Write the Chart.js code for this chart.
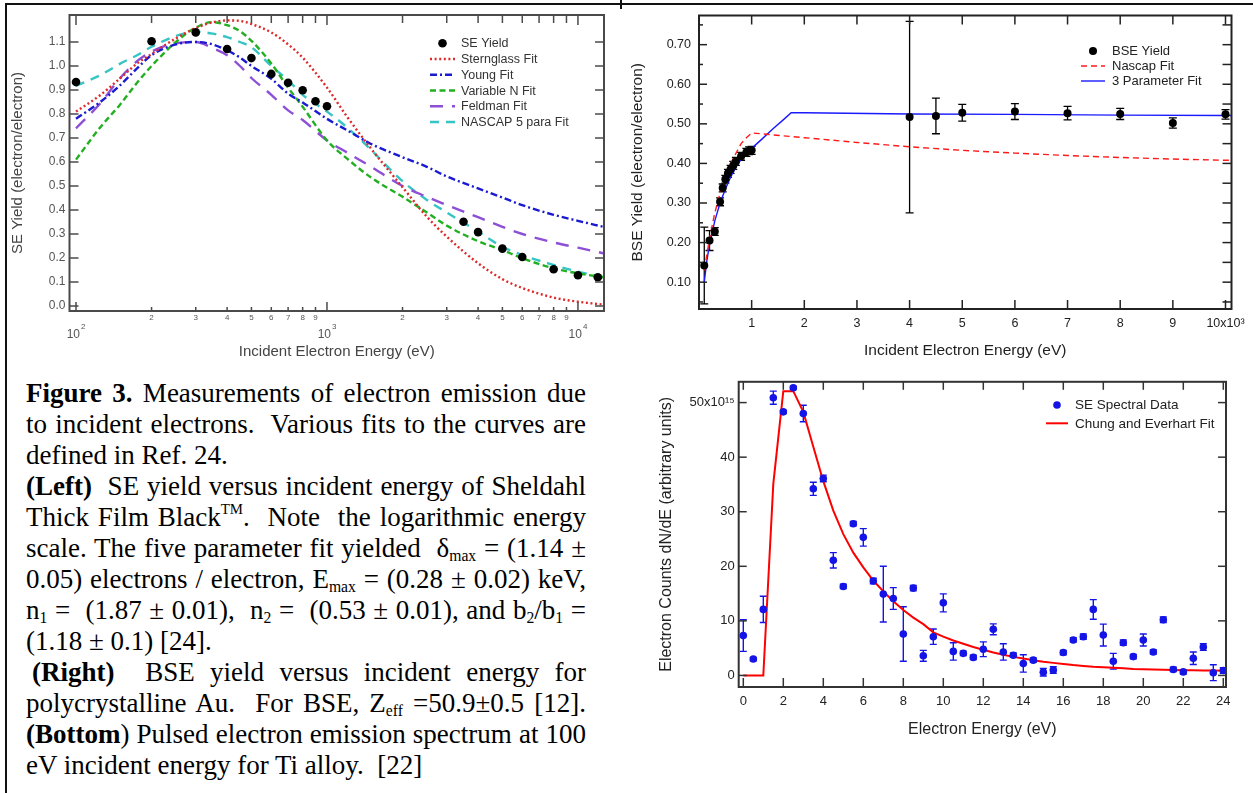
<!DOCTYPE html>
<html>
<head>
<meta charset="utf-8">
<script src="https://cdn.jsdelivr.net/npm/chart.js@4.4.1/dist/chart.umd.min.js"></script>
<style>
  body { margin: 0; background: #fff; width: 1253px; height: 793px; overflow: hidden; position: relative; }
  .frame { position: absolute; left: 5px; top: 3px; width: 1250px; height: 795px; border-top: 2px solid #111; border-left: 2px solid #111; }
  .notch { position: absolute; left: 620px; top: 0; width: 2px; height: 9px; background: #111; }
  canvas { position: absolute; }
  #seChart { left: 0; top: 0; }
  #bseChart { left: 620px; top: 0; }
  #specChart { left: 640px; top: 370px; }
  .cap { position: absolute; left: 26px; top: 378px; width: 560px; font-family: "Liberation Serif", "Times New Roman", serif; font-size: 27px; line-height: 31px; color: #000; }
  .cap div { white-space: nowrap; }
  .cap .j { text-align: justify; text-align-last: justify; }
  .cap .ind { padding-left: 6px; }
  .cap sub { font-size: 58%; vertical-align: -0.28em; line-height: 0; }
  .cap sup { font-size: 55%; vertical-align: 0.8em; line-height: 0; }
</style>
</head>
<body>
<div class="frame"></div>
<div class="notch"></div>
<canvas id="seChart" width="620" height="366"></canvas>
<canvas id="bseChart" width="633" height="366"></canvas>
<canvas id="specChart" width="613" height="400"></canvas>
<div class="cap">
  <div class="j"><b>Figure 3.</b> Measurements of electron emission due</div>
  <div class="j">to incident electrons.&nbsp; Various fits to the curves are</div>
  <div>defined in Ref. 24.</div>
  <div class="j"><b>(Left)</b>&nbsp; SE yield versus incident energy of Sheldahl</div>
  <div class="j">Thick Film Black<sup>TM</sup>.&nbsp; Note&nbsp; the logarithmic energy</div>
  <div class="j">scale. The five parameter fit yielded&nbsp; δ<sub>max</sub> = (1.14 ±</div>
  <div class="j">0.05) electrons / electron, E<sub>max</sub> = (0.28 ± 0.02) keV,</div>
  <div class="j">n<sub>1</sub> =&nbsp; (1.87 ± 0.01),&nbsp; n<sub>2</sub> =&nbsp; (0.53 ± 0.01), and b<sub>2</sub>/b<sub>1</sub> =</div>
  <div>(1.18 ± 0.1) [24].</div>
  <div class="j ind"><b>(Right)</b>&nbsp; BSE yield versus incident energy for</div>
  <div class="j">polycrystalline Au.&nbsp; For BSE, Z<sub>eff</sub> =50.9±0.5 [12].</div>
  <div class="j"><b>(Bottom</b>) Pulsed electron emission spectrum at 100</div>
  <div>eV incident energy for Ti alloy.&nbsp; [22]</div>
</div>
<script>
// ---- left panel: SE yield, log energy axis ----
const seEnergy = [100, 200, 300, 400, 500, 600, 700, 800, 900, 1000, 3500, 4000, 5000, 6000, 8000, 10000, 12000];
const seYield = [0.933, 1.103, 1.140, 1.071, 1.033, 0.967, 0.930, 0.899, 0.853, 0.832, 0.351, 0.308, 0.239, 0.204, 0.153, 0.128, 0.120];

const fitEnergy = [100, 125, 150, 175, 200, 250, 300, 350, 400, 450, 500, 600, 700, 800, 1000, 1200, 1500, 2000, 2500, 3000, 4000, 5000, 6000, 8000, 10000, 12600];
const sternglassFit = [0.81, 0.879, 0.949, 1.01, 1.05, 1.115, 1.158, 1.182, 1.19, 1.188, 1.175, 1.14, 1.09, 1.035, 0.91, 0.79, 0.655, 0.495, 0.372, 0.289, 0.178, 0.112, 0.075, 0.035, 0.018, 0.006];
const youngFit = [0.78, 0.85, 0.92, 0.99, 1.045, 1.09, 1.10, 1.09, 1.065, 1.035, 1.0, 0.947, 0.885, 0.848, 0.78, 0.733, 0.675, 0.62, 0.58, 0.54, 0.49, 0.452, 0.42, 0.38, 0.355, 0.33];
const variableNFit = [0.61, 0.745, 0.84, 0.93, 1.0, 1.10, 1.16, 1.183, 1.17, 1.145, 1.105, 1.01, 0.91, 0.83, 0.69, 0.615, 0.535, 0.455, 0.39, 0.335, 0.27, 0.233, 0.199, 0.157, 0.136, 0.12];
const feldmanFit = [0.74, 0.845, 0.95, 1.02, 1.06, 1.095, 1.10, 1.075, 1.045, 1.0, 0.95, 0.88, 0.815, 0.775, 0.69, 0.64, 0.58, 0.50, 0.455, 0.421, 0.37, 0.33, 0.30, 0.265, 0.243, 0.22];
const nascap5Fit = [0.917, 0.962, 1.01, 1.045, 1.08, 1.125, 1.143, 1.135, 1.12, 1.10, 1.078, 1.0, 0.94, 0.88, 0.81, 0.745, 0.65, 0.52, 0.442, 0.39, 0.31, 0.247, 0.2125, 0.171, 0.143, 0.122];

const seXTicks = [100, 200, 300, 400, 500, 600, 700, 800, 900, 1000, 2000, 3000, 4000, 5000, 6000, 7000, 8000, 9000, 10000];
const seDecades = [100, 1000, 10000];
const seYTicks = [0, 0.1, 0.2, 0.3, 0.4, 0.5, 0.6, 0.7, 0.8, 0.9, 1.0, 1.1];

// ---- right panel: BSE yield ----
const bseEnergy = [100, 200, 300, 400, 450, 500, 550, 600, 650, 700, 800, 900, 950, 1000, 4000, 4500, 5000, 6000, 7000, 8000, 9000, 10000];
const bseYield = [0.142, 0.205, 0.228, 0.303, 0.338, 0.360, 0.375, 0.385, 0.395, 0.405, 0.418, 0.428, 0.432, 0.433, 0.517, 0.520, 0.528, 0.531, 0.527, 0.525, 0.502, 0.524];
const bseErr = [0.097, 0.025, 0.01, 0.01, 0.01, 0.01, 0.01, 0.01, 0.01, 0.01, 0.01, 0.01, 0.01, 0.01, 0.242, 0.045, 0.021, 0.02, 0.017, 0.014, 0.013, 0.012];

const nascapEnergy = [100, 200, 300, 400, 500, 600, 700, 800, 900, 1000, 2000, 3000, 4000, 5000, 6000, 7000, 8000, 9000, 10000, 10110];
const nascapFit = [0.13, 0.21, 0.275, 0.325, 0.37, 0.40, 0.425, 0.45, 0.465, 0.477, 0.465, 0.453, 0.442, 0.433, 0.426, 0.42, 0.415, 0.411, 0.408, 0.408];
const threeParEnergy = [100, 150, 200, 300, 400, 500, 600, 700, 800, 900, 1000, 1200, 1400, 1600, 1750, 2000, 4000, 6000, 8000, 10000, 10110];
const threeParFit = [0.10, 0.155, 0.195, 0.255, 0.30, 0.335, 0.365, 0.39, 0.41, 0.425, 0.438, 0.462, 0.487, 0.51, 0.528, 0.528, 0.525, 0.524, 0.522, 0.521, 0.521];

const bseXTicks = [1000, 2000, 3000, 4000, 5000, 6000, 7000, 8000, 9000, 10000];
const bseXLabels = ['1', '2', '3', '4', '5', '6', '7', '8', '9', '10x10³'];
const bseYTicks = [0.1, 0.2, 0.3, 0.4, 0.5, 0.6, 0.7];
const bseYMinor = [0.05, 0.15, 0.25, 0.35, 0.45, 0.55, 0.65, 0.75];

// ---- bottom panel: SE spectrum ----
const specEnergy = [0, 0.5, 1, 1.5, 2, 2.5, 3, 3.5, 4, 4.5, 5, 5.5, 6, 6.5, 7, 7.5, 8, 8.5, 9, 9.5, 10, 10.5, 11, 11.5, 12,
  12.5, 13, 13.5, 14, 14.5, 15, 15.5, 16, 16.5, 17, 17.5, 18, 18.5, 19, 19.5, 20, 20.5, 21, 21.5, 22, 22.5, 23, 23.5, 24];
const specCounts = [7.3, 3.0, 12.1, 50.9, 48.3, 52.7, 48.0, 34.2, 36.1, 21.1, 16.3, 27.8, 25.3, 17.3, 14.9, 14.1, 7.6, 16.0, 3.6, 7.1, 13.3, 4.4, 4.05, 3.3, 4.8,
  8.45, 4.3, 3.7, 2.2, 2.8, 0.6, 1.0, 4.2, 6.5, 7.1, 12.1, 7.4, 2.6, 6.0, 3.45, 6.5, 4.3, 10.2, 1.1, 0.65, 3.15, 5.2, 0.5, 0.9];
const specErr = [2.9, 0.3, 2.4, 1.2, 0.3, 0.3, 1.5, 1.2, 0.6, 1.4, 0.4, 0.4, 1.6, 0.5, 5.1, 2.0, 5.0, 0.5, 1.0, 1.4, 1.65, 1.6, 0.4, 0.4, 1.35,
  1.0, 1.5, 0.4, 1.6, 0.4, 0.7, 0.6, 0.4, 0.4, 0.5, 1.8, 2.0, 1.45, 0.5, 0.4, 1.1, 0.4, 0.5, 0.4, 0.4, 1.15, 0.6, 1.45, 0.5];
const chungFit = [0, 0, 0, 35.1, 52.1, 52.1, 48.3, 41.9, 35.6, 30.2, 25.9, 22.5, 19.8, 17.4, 15.4, 13.6, 12.0, 10.6, 9.4, 7.9, 7.1, 6.4, 5.8, 5.2, 4.7,
  4.2, 3.8, 3.4, 3.1, 2.8, 2.5, 2.3, 2.1, 1.9, 1.75, 1.6, 1.5, 1.4, 1.3, 1.2, 1.15, 1.1, 1.05, 1.0, 0.97, 0.94, 0.91, 0.89, 0.87];

const specXTicks = [0, 2, 4, 6, 8, 10, 12, 14, 16, 18, 20, 22, 24];
const specYTicks = [0, 10, 20, 30, 40, 50];
const specYLabels = ['0', '10', '20', '30', '40', '50x10¹⁵'];

const FONT = '"Liberation Sans", Arial, sans-serif';
Chart.defaults.font.family = FONT;

const pts = (xs, ys) => xs.map((x, i) => ({x: x, y: ys[i]}));
const noGrid = {display: false, drawTicks: false};

// inward ticks on all four sides plus the closed box
function frameTicks(cfg) {
  return {
    id: 'frameTicks',
    afterDraw(chart) {
      const {ctx, chartArea: a} = chart;
      const sx = chart.scales.x, sy = chart.scales.y;
      ctx.save();
      ctx.strokeStyle = cfg.color;
      ctx.lineWidth = cfg.tickWidth;
      const mark = (x0, y0, x1, y1) => { ctx.beginPath(); ctx.moveTo(x0, y0); ctx.lineTo(x1, y1); ctx.stroke(); };
      (cfg.bottom || []).forEach(([v, len]) => { const p = sx.getPixelForValue(v); mark(p, a.bottom, p, a.bottom - len); });
      (cfg.top || []).forEach(([v, len]) => { const p = sx.getPixelForValue(v); mark(p, a.top, p, a.top + len); });
      (cfg.left || []).forEach(([v, len]) => { const p = sy.getPixelForValue(v); mark(a.left, p, a.left + len, p); });
      (cfg.right || []).forEach(([v, len]) => { const p = sy.getPixelForValue(v); mark(a.right, p, a.right - len, p); });
      ctx.lineWidth = cfg.lineWidth;
      ctx.strokeRect(a.left, a.top, a.right - a.left, a.bottom - a.top);
      ctx.restore();
    }
  };
}

function legendBox(cfg) {
  return {
    id: 'legendBox',
    afterDraw(chart) {
      const ctx = chart.ctx;
      ctx.save();
      ctx.font = cfg.size + 'px ' + FONT;
      ctx.textBaseline = 'middle';
      ctx.textAlign = 'left';
      chart.data.datasets.forEach((ds, i) => {
        const y = cfg.y + i * cfg.dy;
        if (ds.showLine === false) {
          ctx.fillStyle = ds.pointBackgroundColor;
          ctx.beginPath();
          ctx.arc((cfg.x0 + cfg.x1) / 2, y, ds.pointRadius, 0, Math.PI * 2);
          ctx.fill();
        } else {
          ctx.strokeStyle = ds.borderColor;
          ctx.lineWidth = ds.borderWidth;
          ctx.setLineDash(ds.borderDash || []);
          ctx.beginPath(); ctx.moveTo(cfg.x0, y); ctx.lineTo(cfg.x1, y); ctx.stroke();
          ctx.setLineDash([]);
        }
        ctx.fillStyle = cfg.color;
        ctx.fillText(ds.label, cfg.tx, y + 0.5);
      });
      ctx.restore();
    }
  };
}

function errorBars(cfg) {
  return {
    id: 'errorBars',
    beforeDatasetsDraw(chart) {
      const {ctx, scales: {x, y}} = chart;
      ctx.save();
      chart.data.datasets.forEach(ds => {
        if (!ds.errors) return;
        ctx.strokeStyle = ds.pointBackgroundColor;
        ctx.lineWidth = cfg.width;
        ds.data.forEach((p, i) => {
          const e = ds.errors[i];
          if (!e) return;
          const px = x.getPixelForValue(p.x);
          const y0 = y.getPixelForValue(p.y - e), y1 = y.getPixelForValue(p.y + e);
          ctx.beginPath();
          ctx.moveTo(px, y0); ctx.lineTo(px, y1);
          ctx.moveTo(px - cfg.cap, y0); ctx.lineTo(px + cfg.cap, y0);
          ctx.moveTo(px - cfg.cap, y1); ctx.lineTo(px + cfg.cap, y1);
          ctx.stroke();
        });
      });
      ctx.restore();
    }
  };
}

// "10^n" labels under the decades of the log axis
function decadeLabels(cfg) {
  return {
    id: 'decadeLabels',
    afterDraw(chart) {
      const {ctx, scales: {x}} = chart;
      ctx.save();
      ctx.fillStyle = cfg.color;
      ctx.textBaseline = 'middle';
      cfg.values.forEach(v => {
        const p = x.getPixelForValue(v);
        ctx.font = cfg.size + 'px ' + FONT;
        ctx.textAlign = 'right';
        ctx.fillText('10', p + 4, cfg.y);
        ctx.font = cfg.supSize + 'px ' + FONT;
        ctx.textAlign = 'left';
        ctx.fillText(String(Math.round(Math.log10(v))), p + 5, cfg.y - 8);
      });
      ctx.restore();
    }
  };
}

const logTickLabel = v => {
  const e = Math.floor(Math.log10(v) + 1e-9);
  const d = Math.round(v / Math.pow(10, e));
  return d === 1 ? '' : String(d);
};
const isDecade = v => seDecades.includes(v);

const fitLine = (label, ys, color, dash) => ({
  label: label, data: pts(fitEnergy, ys), showLine: true, borderColor: color, borderWidth: 2.4,
  borderDash: dash, pointRadius: 0, cubicInterpolationMode: 'monotone'
});

new Chart(document.getElementById('seChart'), {
  type: 'scatter',
  data: {
    datasets: [
      {label: 'SE Yield', data: pts(seEnergy, seYield), showLine: false, pointRadius: 4.3,
       pointBackgroundColor: '#000', pointBorderColor: '#000', pointBorderWidth: 0},
      fitLine('Sternglass Fit', sternglassFit, '#dd2a2a', [2, 2.6]),
      fitLine('Young Fit', youngFit, '#1a1ad0', [7, 3, 2, 3]),
      fitLine('Variable N Fit', variableNFit, '#22b022', [6, 3.5]),
      fitLine('Feldman Fit', feldmanFit, '#8c4fd6', [13, 9]),
      fitLine('NASCAP 5 para Fit', nascap5Fit, '#36c4c4', [9, 7])
    ]
  },
  options: {
    responsive: false, animation: false, events: [],
    layout: {padding: {top: 15, right: 16, left: 0, bottom: 0}},
    plugins: {legend: {display: false}, tooltip: {enabled: false}},
    scales: {
      x: {
        type: 'logarithmic', min: 94.2, max: 12700,
        grid: noGrid, border: {display: false},
        afterBuildTicks: s => { s.ticks = seXTicks.map(v => ({value: v})); },
        afterFit: s => { s.height = 55; },
        ticks: {autoSkip: false, maxRotation: 0, padding: 2.2, color: '#555', font: {size: 8}, callback: v => logTickLabel(v)},
        title: {display: true, text: 'Incident Electron Energy (eV)', color: '#444', font: {size: 15}, padding: {top: 0, bottom: 5}}
      },
      y: {
        min: -0.0208, max: 1.2125,
        grid: noGrid, border: {display: false},
        afterBuildTicks: s => { s.ticks = seYTicks.map(v => ({value: v})); },
        afterFit: s => { s.width = 69.5; },
        ticks: {autoSkip: false, padding: 4, color: '#555', font: {size: 12}, callback: v => v.toFixed(1)},
        title: {display: true, text: 'SE Yield (electron/electron)', color: '#444', font: {size: 15}, padding: {top: 8.5, bottom: 0}}
      }
    }
  },
  plugins: [
    frameTicks({
      color: '#4a4a4a', tickWidth: 1.5, lineWidth: 2,
      bottom: seXTicks.map(v => [v, isDecade(v) ? 9 : 4]),
      top: seXTicks.map(v => [v, isDecade(v) ? 10 : 8]),
      left: seYTicks.map(v => [v, 9]),
      right: seYTicks.map(v => [v, 9])
    }),
    decadeLabels({values: seDecades, y: 335, size: 12, supSize: 8, color: '#555'}),
    legendBox({x0: 430, x1: 455, tx: 461, y: 43.3, dy: 15.75, size: 12.5, color: '#333'})
  ]
});

new Chart(document.getElementById('bseChart'), {
  type: 'scatter',
  data: {
    datasets: [
      {label: 'BSE Yield', data: pts(bseEnergy, bseYield), errors: bseErr, showLine: false, pointRadius: 4,
       pointBackgroundColor: '#000', pointBorderColor: '#000', pointBorderWidth: 0},
      {label: 'Nascap Fit', data: pts(nascapEnergy, nascapFit), showLine: true, borderColor: '#ff1a1a',
       borderWidth: 1.4, borderDash: [6, 4], pointRadius: 0, tension: 0},
      {label: '3 Parameter Fit', data: pts(threeParEnergy, threeParFit), showLine: true, borderColor: '#1a1aff',
       borderWidth: 1.4, pointRadius: 0, tension: 0}
    ]
  },
  options: {
    responsive: false, animation: false, events: [],
    layout: {padding: {top: 14, right: 21.5, left: 0, bottom: 0}},
    plugins: {legend: {display: false}, tooltip: {enabled: false}},
    scales: {
      x: {
        min: 0, max: 10114,
        grid: noGrid, border: {display: false},
        afterBuildTicks: s => { s.ticks = bseXTicks.map(v => ({value: v})); },
        afterFit: s => { s.height = 57; },
        ticks: {autoSkip: false, maxRotation: 0, padding: 7, color: '#222', font: {size: 12.5},
                callback: (v, i) => bseXLabels[i]},
        title: {display: true, text: 'Incident Electron Energy (eV)', color: '#222', font: {size: 15.5}, padding: {top: 0, bottom: 6}}
      },
      y: {
        min: 0.0322, max: 0.7737,
        grid: noGrid, border: {display: false},
        afterBuildTicks: s => { s.ticks = bseYTicks.map(v => ({value: v})); },
        afterFit: s => { s.width = 79; },
        ticks: {autoSkip: false, padding: 8, color: '#222', font: {size: 12.5}, callback: v => v.toFixed(2)},
        title: {display: true, text: 'BSE Yield (electron/electron)', color: '#222', font: {size: 15.5}, padding: {top: 8.7, bottom: 0}}
      }
    }
  },
  plugins: [
    errorBars({width: 1.3, cap: 4}),
    frameTicks({
      color: '#222', tickWidth: 1.5, lineWidth: 2,
      bottom: bseXTicks.map(v => [v, 9]),
      top: bseXTicks.map(v => [v, 9]),
      left: bseYTicks.map(v => [v, 8]).concat(bseYMinor.map(v => [v, 4])),
      right: bseYTicks.concat(bseYMinor).map(v => [v, 9])
    }),
    legendBox({x0: 461, x1: 485, tx: 492, y: 51, dy: 15, size: 13, color: '#222'})
  ]
});

new Chart(document.getElementById('specChart'), {
  type: 'scatter',
  data: {
    datasets: [
      {label: 'SE Spectral Data', data: pts(specEnergy, specCounts), errors: specErr, showLine: false, pointRadius: 3.8,
       pointBackgroundColor: '#1414e6', pointBorderColor: '#1414e6', pointBorderWidth: 0},
      {label: 'Chung and Everhart Fit', data: pts(specEnergy, chungFit), showLine: true, borderColor: '#ff0000',
       borderWidth: 2, pointRadius: 0, tension: 0}
    ]
  },
  options: {
    responsive: false, animation: false, events: [],
    layout: {padding: {top: 6, right: 27, left: 0, bottom: 0}},
    plugins: {legend: {display: false}, tooltip: {enabled: false}},
    scales: {
      x: {
        min: -0.23, max: 24.135,
        grid: noGrid, border: {display: false},
        afterBuildTicks: s => { s.ticks = specXTicks.map(v => ({value: v})); },
        afterFit: s => { s.height = 83; },
        ticks: {autoSkip: false, maxRotation: 0, padding: 7, color: '#222', font: {size: 13}},
        title: {display: true, text: 'Electron Energy (eV)', color: '#222', font: {size: 16}, padding: {top: 0, bottom: 30.5}}
      },
      y: {
        min: -2.12, max: 53.81,
        grid: noGrid, border: {display: false},
        afterBuildTicks: s => { s.ticks = specYTicks.map(v => ({value: v})); },
        afterFit: s => { s.width = 98.7; },
        ticks: {autoSkip: false, padding: 4, color: '#222', font: {size: 13}, callback: (v, i) => specYLabels[i]},
        title: {display: true, text: 'Electron Counts dN/dE (arbitrary units)', color: '#222', font: {size: 16}, padding: {top: 17.4, bottom: 0}}
      }
    }
  },
  plugins: [
    errorBars({width: 1.4, cap: 3.5}),
    frameTicks({
      color: '#333', tickWidth: 1.5, lineWidth: 2,
      bottom: specXTicks.map(v => [v, 9]),
      top: specXTicks.map(v => [v, 8]),
      left: specYTicks.map(v => [v, 8]),
      right: specYTicks.map(v => [v, 8])
    }),
    legendBox({x0: 406, x1: 428, tx: 435, y: 35, dy: 18.3, size: 13.5, color: '#222'})
  ]
});
</script>
</body>
</html>
